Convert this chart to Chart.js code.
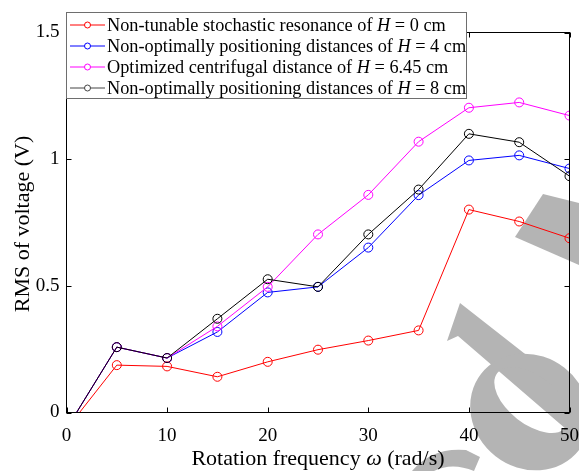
<!DOCTYPE html>
<html lang="en">
<head>
<meta charset="UTF-8">
<title>RMS of voltage vs rotation frequency</title>
<script src="https://cdn.jsdelivr.net/npm/chart.js@4.4.1/dist/chart.umd.min.js"></script>
<style>
  html, body { margin: 0; padding: 0; background: #ffffff; }
  #wrap { width: 579px; height: 471px; }
</style>
</head>
<body>
<div id="wrap"><canvas id="rmsChart" width="579" height="471"></canvas></div>
<script>
// rotation frequency (rad/s)
const freq = [1, 5, 10, 15, 20, 25, 30, 35, 40, 45, 50];
// RMS of voltage (V) for each centrifugal distance H
const rmsH0   = [-0.015, 0.187, 0.182, 0.141, 0.200, 0.248, 0.284, 0.324, 0.801, 0.754, 0.688];
const rmsH4   = [0, 0.258, 0.215, 0.318, 0.474, 0.496, 0.651, 0.858, 0.995, 1.015, 0.963];
const rmsH645 = [0, 0.258, 0.215, 0.340, 0.496, 0.703, 0.859, 1.069, 1.203, 1.224, 1.172];
const rmsH8   = [0, 0.258, 0.215, 0.370, 0.526, 0.496, 0.703, 0.880, 1.100, 1.067, 0.933];

const xTicks = [0, 10, 20, 30, 40, 50];
const yTicks = [0, 0.5, 1, 1.5];

const seriesNames = [
  'Non-tunable stochastic resonance of',
  'Non-optimally positioning distances of',
  'Optimized centrifugal distance of',
  'Non-optimally positioning distances of'
];
const seriesH = ['0 cm', '4 cm', '6.45 cm', '8 cm'];
const seriesColors = ['#ff0000', '#0000ff', '#ff00ff', '#000000'];

const SERIF = '"Liberation Serif", "Times New Roman", serif';

function pts(ys) {
  return ys.map((y, i) => ({ x: freq[i], y: y }));
}

// draw a run of text pieces, some of them italic
function drawRich(ctx, parts, x, y, size, align) {
  let total = 0;
  parts.forEach(p => {
    ctx.font = (p.it ? 'italic ' : '') + size + 'px ' + SERIF;
    p.w = ctx.measureText(p.t).width;
    total += p.w;
  });
  let cx = align === 'center' ? x - total / 2 : x;
  ctx.textAlign = 'left';
  parts.forEach(p => {
    ctx.font = (p.it ? 'italic ' : '') + size + 'px ' + SERIF;
    ctx.fillText(p.t, cx, y);
    cx += p.w;
  });
}

// grey watermark letters, under everything else
const watermark = {
  id: 'watermark',
  beforeDraw(chart) {
    const ctx = chart.ctx;
    const ang = 38 * Math.PI / 180;
    ctx.save();
    ctx.fillStyle = '#b4b4b4';
    // stem of the "d"
    ctx.beginPath();
    ctx.moveTo(460, 303);
    ctx.lineTo(700, 491);
    ctx.lineTo(675, 523);
    ctx.lineTo(458, 336);
    ctx.lineTo(447, 341);
    ctx.closePath();
    ctx.fill();
    // bowl of the "d"
    ctx.beginPath();
    ctx.ellipse(530, 412, 62, 56, ang, 0, Math.PI * 2);
    ctx.ellipse(532, 400, 44, 24, ang, 0, Math.PI * 2);
    ctx.fill('evenodd');
    // piece of the next letter
    ctx.beginPath();
    ctx.moveTo(515, 237);
    ctx.lineTo(543, 194);
    ctx.lineTo(579, 203);
    ctx.lineTo(579, 265);
    ctx.closePath();
    ctx.fill();
    // piece of the previous letter
    ctx.beginPath();
    ctx.moveTo(412, 471);
    ctx.quadraticCurveTo(432, 447, 466, 450);
    ctx.lineTo(480, 457);
    ctx.lineTo(474, 471);
    ctx.quadraticCurveTo(452, 462, 434, 471);
    ctx.closePath();
    ctx.fill();
    ctx.restore();
  }
};

const frame = {
  id: 'frame',
  afterDatasetsDraw(chart) {
    const ctx = chart.ctx;
    const a = chart.chartArea;
    const xs = chart.scales.x, ys = chart.scales.y;
    ctx.save();
    ctx.strokeStyle = '#000';
    ctx.lineWidth = 1;
    ctx.strokeRect(a.left, a.top, a.right - a.left, a.bottom - a.top);
    ctx.beginPath();
    xTicks.forEach(v => {
      const px = Math.round(xs.getPixelForValue(v)) + 0.5;
      ctx.moveTo(px, a.bottom); ctx.lineTo(px, a.bottom - 5);
      ctx.moveTo(px, a.top); ctx.lineTo(px, a.top + 5);
    });
    yTicks.forEach(v => {
      const py = Math.round(ys.getPixelForValue(v)) + 0.5;
      ctx.moveTo(a.left, py); ctx.lineTo(a.left + 5, py);
      ctx.moveTo(a.right, py); ctx.lineTo(a.right - 5, py);
    });
    ctx.stroke();
    ctx.restore();
  },
  afterDraw(chart) {
    const ctx = chart.ctx;
    ctx.save();
    // legend box
    ctx.fillStyle = '#fff';
    ctx.fillRect(66.5, 12.5, 400, 86);
    ctx.strokeStyle = '#6e6e6e';
    ctx.lineWidth = 1;
    ctx.strokeRect(66.5, 12.5, 400, 86);
    ctx.textBaseline = 'middle';
    seriesNames.forEach((name, i) => {
      const y = 25 + i * 21;
      const col = i === 3 ? '#444' : seriesColors[i];
      ctx.strokeStyle = col;
      ctx.beginPath();
      ctx.moveTo(70, y); ctx.lineTo(105, y);
      ctx.stroke();
      ctx.fillStyle = '#fff';
      ctx.beginPath();
      ctx.arc(87.5, y, 3, 0, Math.PI * 2);
      ctx.fill();
      ctx.stroke();
      ctx.fillStyle = '#000';
      drawRich(ctx, [
        { t: name + ' ' },
        { t: 'H', it: true },
        { t: ' = ' + seriesH[i] }
      ], 107, y + 1, 18.3, 'left');
    });
    // axis titles
    ctx.fillStyle = '#000';
    ctx.textBaseline = 'middle';
    drawRich(ctx, [
      { t: 'Rotation frequency ' },
      { t: 'ω', it: true },
      { t: ' (rad/s)' }
    ], 318, 459, 22, 'center');
    ctx.translate(23, 224);
    ctx.rotate(-Math.PI / 2);
    drawRich(ctx, [{ t: 'RMS of voltage (V)' }], 0, 0, 22, 'center');
    ctx.restore();
  }
};

function series(i, ys, order) {
  return {
    label: seriesNames[i] + ' H = ' + seriesH[i],
    data: pts(ys),
    borderColor: seriesColors[i],
    backgroundColor: 'rgba(0,0,0,0)',
    borderWidth: 1,
    pointStyle: 'circle',
    pointRadius: ys.map((v, k) => (k === 0 ? 0 : 4.5)),
    pointBorderWidth: 1,
    pointBackgroundColor: 'rgba(0,0,0,0)',
    pointBorderColor: seriesColors[i],
    tension: 0,
    fill: false,
    order: order
  };
}

new Chart(document.getElementById('rmsChart').getContext('2d'), {
  type: 'line',
  data: {
    datasets: [
      series(0, rmsH0, 4),
      series(1, rmsH4, 3),
      series(2, rmsH645, 2),
      series(3, rmsH8, 1)
    ]
  },
  options: {
    responsive: false,
    devicePixelRatio: 1,
    animation: false,
    layout: { padding: { top: 32.5, right: 9.5, left: 0, bottom: 0 } },
    plugins: { legend: { display: false }, tooltip: { enabled: false } },
    scales: {
      x: {
        type: 'linear',
        min: 0, max: 50,
        afterBuildTicks: s => { s.ticks = xTicks.map(v => ({ value: v })); },
        afterFit: s => { s.height = 58.5; s.paddingLeft = 0; s.paddingRight = 0; },
        grid: { display: false, drawTicks: false },
        border: { display: false },
        ticks: { color: '#000', padding: 12, maxRotation: 0, callback: v => String(v),
                 font: { family: SERIF, size: 19 } }
      },
      y: {
        type: 'linear',
        min: 0, max: 1.5,
        afterBuildTicks: s => { s.ticks = yTicks.map(v => ({ value: v })); },
        afterFit: s => { s.width = 66.5; s.paddingTop = 0; s.paddingBottom = 0; },
        grid: { display: false, drawTicks: false },
        border: { display: false },
        ticks: { color: '#000', padding: 7, callback: v => String(v),
                 font: { family: SERIF, size: 19 } }
      }
    }
  },
  plugins: [watermark, frame]
});
</script>
</body>
</html>
